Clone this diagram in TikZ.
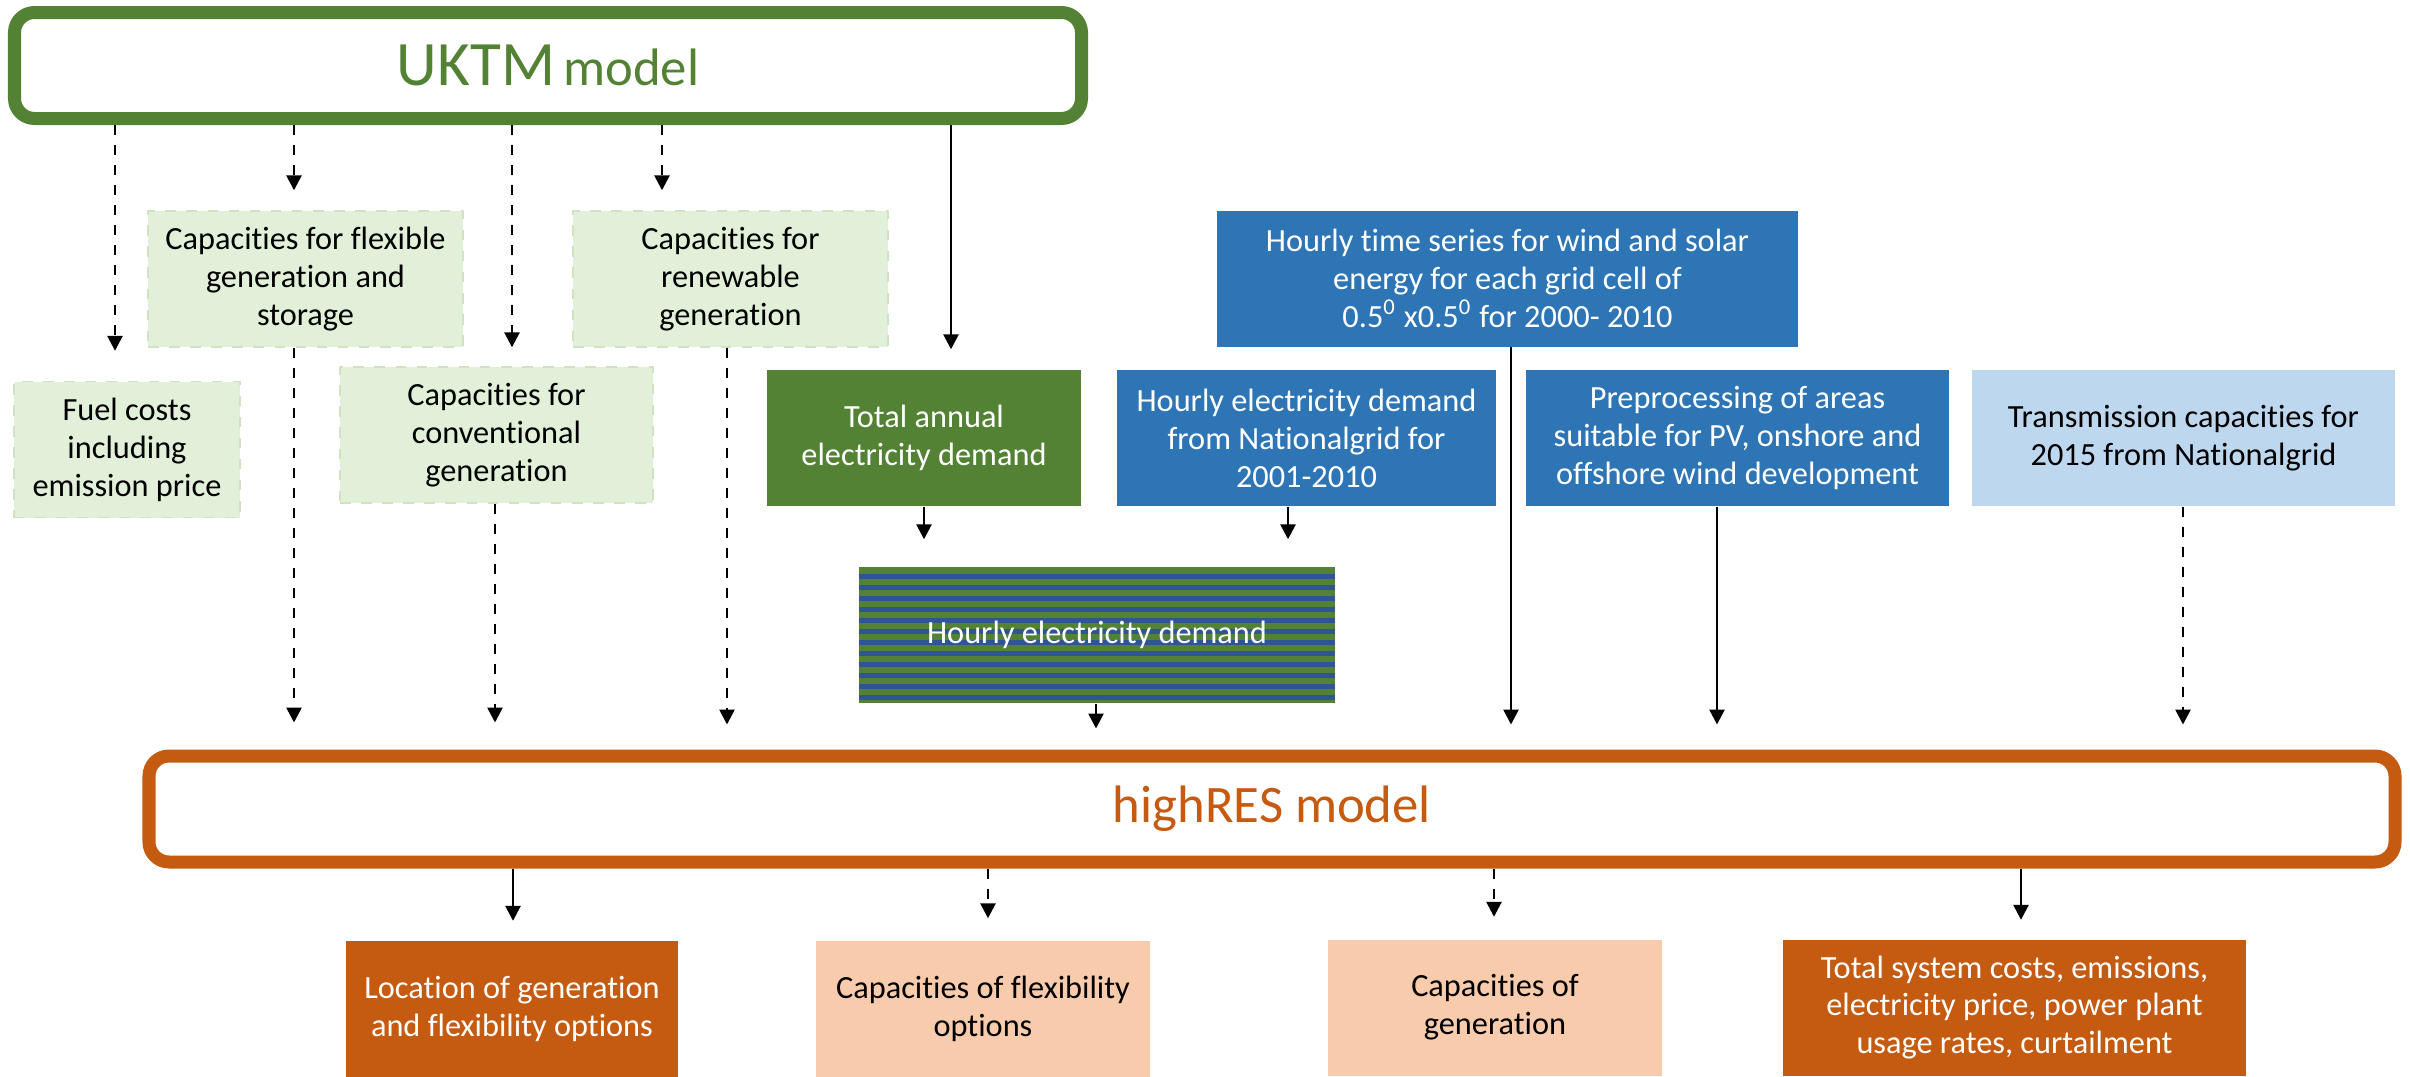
\documentclass[tikz,border=0pt]{standalone}
\usepackage{fontspec}
\setmainfont[RawFeature={-liga;-clig;-dlig;-calt;-rlig;-hlig}]{Carlito}
\usetikzlibrary{arrows.meta}
\definecolor{xanhla}{HTML}{548235}
\definecolor{xanhnhat}{HTML}{E2F0D9}
\definecolor{vien}{HTML}{CFE3C3}
\definecolor{xanhduong}{HTML}{2E75B6}
\definecolor{duongnhat}{HTML}{BDD7EE}
\definecolor{soc}{HTML}{2F5597}
\definecolor{cam}{HTML}{C55A11}
\definecolor{camnhat}{HTML}{F8CBAD}
\begin{document}
\begin{tikzpicture}[line join=round,
	hop/.style={inner sep=0pt,align=center,minimum height=\h cm,font=\fontsize{9.2}{10.8}\selectfont},
	hopnhat/.style={hop,fill=xanhnhat,draw=vien,dashed},
	hopla/.style={hop,fill=xanhla,text=white},
	hopxanh/.style={hop,fill=xanhduong,text=white},
	hopduong/.style={hop,fill=duongnhat},
	hopcam/.style={hop,fill=cam,text=white},
	hopcamnhat/.style={hop,fill=camnhat},
	mohinh/.style={line width=3.7pt,rounded corners=2mm,inner sep=0pt,minimum height=1.06cm},
	muiten/.style={line width=0.75pt,-{Triangle[length=1.5mm,width=1.5mm]}},
	muidut/.style={muiten,dash pattern=on 1mm off 1mm}]
		%==Kích thước chung
		\def\h{1.36}
		%==============
		\useasboundingbox (0,0) rectangle (24.1,-10.76);
		\node[mohinh,draw=xanhla,text=xanhla,minimum width=10.67cm] (uktm) at (5.48,-0.655) {{\fontsize{18}{20}\selectfont UKTM} {\fontsize{15}{18}\selectfont model}};
		\node[mohinh,draw=cam,text=cam,minimum width=22.46cm] (highres) at (12.72,-8.09) {\fontsize{15}{18}\selectfont highRES model};
		%==Đầu vào
		\node[hopnhat,minimum width=2.26cm] (fuel) at (1.27,-4.495) {Fuel costs\\including\\emission price};
		\node[hopnhat,minimum width=3.15cm] (flex) at (3.055,-2.79) {Capacities for flexible\\generation and\\storage};
		\node[hopnhat,minimum width=3.13cm] (conv) at (4.965,-4.35) {Capacities for\\conventional\\generation};
		\node[hopnhat,minimum width=3.15cm] (renew) at (7.305,-2.79) {Capacities for\\renewable\\generation};
		\node[hopla,minimum width=3.14cm] (total) at (9.24,-4.38) {Total annual\\electricity demand};
		\node[hopxanh,minimum width=3.79cm] (ng) at (13.065,-4.38) {Hourly electricity demand\\from Nationalgrid for\\2001-2010};
		\node[hopxanh,minimum width=5.81cm] (ts) at (15.075,-2.785) {Hourly time series for wind and solar\\energy for each grid cell of\\0.5\textsuperscript{0} x0.5\textsuperscript{0} for 2000- 2010};
		\node[hopxanh,minimum width=4.23cm] (pre) at (17.375,-4.38) {Preprocessing of areas\\suitable for PV, onshore and\\offshore wind development};
		\node[hopduong,minimum width=4.23cm] (trans) at (21.835,-4.38) {Transmission capacities for\\2015 from Nationalgrid};
		\node[hop,fill=xanhla,text=white,minimum width=4.76cm,
			path picture={\foreach \i in {0,...,11}
				\fill[soc] ([yshift=-\i*1.1mm-0.7mm]path picture bounding box.north west) rectangle ([yshift=-\i*1.1mm-1.2mm]path picture bounding box.north east);}] (hd) at (10.97,-6.35) {Hourly electricity demand};
		%==Đầu ra
		\node[hopcam,minimum width=3.32cm] (loc) at (5.12,-10.085) {Location of generation\\and flexibility options};
		\node[hopcamnhat,minimum width=3.34cm] (flexopt) at (9.83,-10.09) {Capacities of flexibility\\options};
		\node[hopcamnhat,minimum width=3.34cm] (gen) at (14.95,-10.075) {Capacities of\\generation};
		\node[hopcam,minimum width=4.63cm] (tot) at (20.145,-10.075) {Total system costs, emissions,\\electricity price, power plant\\usage rates, curtailment};
		%==Mũi tên
		\foreach \a/\b/\x/\kieu/\s in {uktm/fuel/1.15/muidut/3,uktm/flex/2.94/muidut/2,uktm/conv/5.12/muidut/1.9,uktm/renew/6.62/muidut/2,uktm/total/9.51/muiten/2,
			flex/highres/2.94/muidut/2.7,conv/highres/4.95/muidut/2.7,renew/highres/7.27/muidut/2.5,total/hd/9.24/muiten/2.7,ng/hd/12.88/muiten/2.7,hd/highres/10.96/muiten/2.1,
			ts/highres/15.11/muiten/2.5,pre/highres/17.17/muiten/2.5,trans/highres/21.83/muidut/2.5,
			highres/loc/5.13/muiten/1.9,highres/flexopt/9.88/muidut/2.2,highres/gen/14.94/muidut/2.2,highres/tot/20.21/muiten/1.9}
			\draw[\kieu,shorten >=\s mm] (\a.south -| \x,0) -- (\b.north -| \x,0);
\end{tikzpicture}
\end{document}
